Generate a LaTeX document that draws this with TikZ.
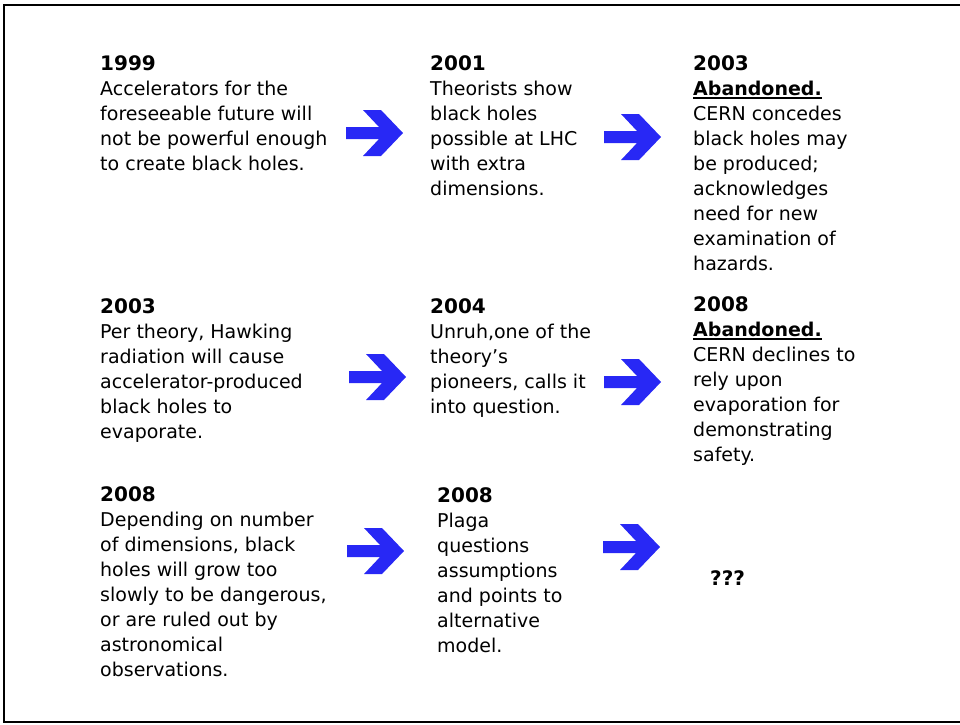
\documentclass[tikz,border=0pt]{standalone}
\usepackage{fontspec}
\setmainfont{DejaVu Sans}
\usepackage{xcolor}
\usetikzlibrary{positioning}

\definecolor{arrowblue}{RGB}{40,40,245}
\newcommand{\yr}[1]{{\fontsize{20}{25}\selectfont\bfseries #1}}
\newcommand{\abandoned}{{\bfseries\setbox0\hbox{Abandoned.}\rlap{\rule[-4pt]{\wd0}{1.6pt}}\box0}}

\begin{document}
\begin{tikzpicture}[
    x=1pt, y=-1pt,
    entry/.style={anchor=north west, inner sep=0pt, align=left, font=\fontsize{19}{25}\selectfont},
    bigarrow/.pic={\fill[arrowblue] (0,-6) -- (33,-6) -- (17,-23) -- (35,-23) -- (57,0)
        -- (35,23) -- (17,23) -- (33,6) -- (0,6) -- cycle;}
]
\useasboundingbox (0,0) rectangle (960,724);
\draw[line width=2pt] (964,5) -- (4,5) -- (4,722) -- (964,722);

% --- first row ---
\node[entry] (a1) at (100,55) {\yr{1999}\\Accelerators for the\\foreseeable future will\\not be powerful enough\\to create black holes.};
\node[entry] (a2) at (430,55) {\yr{2001}\\Theorists show\\black holes\\possible at LHC\\with extra\\dimensions.};
\node[entry] (a3) at (693,55) {\yr{2003}\\\abandoned\\CERN concedes\\black holes may\\be produced;\\acknowledges\\need for new\\examination of\\hazards.};
\pic at (346,133) {bigarrow};
\pic at (604,137) {bigarrow};

% --- second row ---
\node[entry] (b1) at (100,298) {\yr{2003}\\Per theory, Hawking\\radiation will cause\\accelerator-produced\\black holes to\\evaporate.};
\node[entry] (b2) at (430,298) {\yr{2004}\\Unruh,one of the\\theory’s\\pioneers, calls it\\into question.};
\node[entry] (b3) at (693,296) {\yr{2008}\\\abandoned\\CERN declines to\\rely upon\\evaporation for\\demonstrating\\safety.};
\pic at (349,377) {bigarrow};
\pic at (604,382) {bigarrow};

% --- third row ---
\node[entry] (c1) at (100,486) {\yr{2008}\\Depending on number\\of dimensions, black\\holes will grow too\\slowly to be dangerous,\\or are ruled out by\\astronomical\\observations.};
\node[entry] (c2) at (437,487) {\yr{2008}\\Plaga\\questions\\assumptions\\and points to\\alternative\\model.};
\node[entry, anchor=west] (c3) at (710,578) {\yr{???}};
\pic at (347,551) {bigarrow};
\pic at (603,547) {bigarrow};
\end{tikzpicture}
\end{document}
